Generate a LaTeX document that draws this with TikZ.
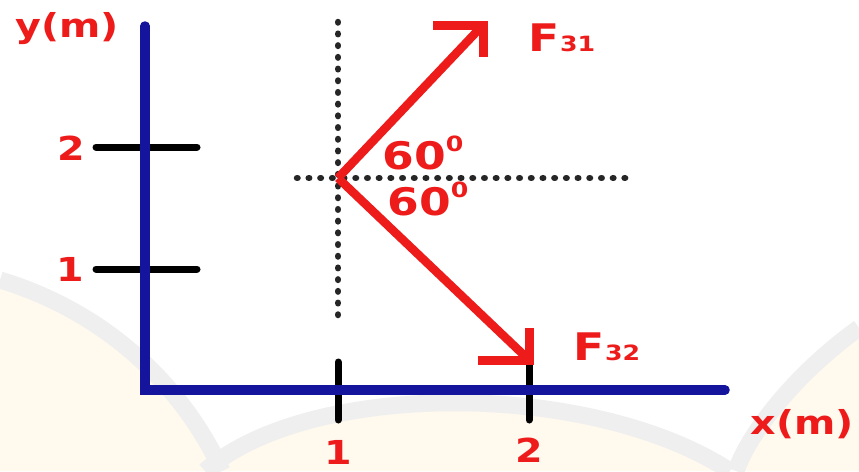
\documentclass[tikz,border=0pt]{standalone}
\usepackage{fontspec}
\setmainfont{DejaVu Sans}
\definecolor{axisblue}{HTML}{14149C}
\definecolor{fred}{HTML}{EE1B1B}
\definecolor{wmbeige}{HTML}{FFF9EE}
\definecolor{wmgrey}{HTML}{EFEFEF}
\begin{document}
\begin{tikzpicture}[x=1pt,y=-1pt,
  axis/.style={line width=9.5pt, draw=axisblue, line cap=round, line join=miter},
  tickline/.style={line width=7pt, draw=black, line cap=round},
  dotline/.style={line width=6.5pt, draw=black!85, dash pattern=on 0.5pt off 11.2pt, line cap=round},
  force/.style={line width=8.5pt, draw=fred},
  headline/.style={line width=9pt, draw=fred, line cap=butt, line join=miter},
  lab/.style={text=fred, inner sep=0pt, xscale=1.2, font=\bfseries\fontsize{33}{33}\selectfont},
  biglab/.style={text=fred, inner sep=0pt, xscale=1.2, font=\bfseries\fontsize{38}{38}\selectfont},
  wmband/.style={line width=17pt, draw=wmgrey}]
\useasboundingbox (0,0) rectangle (859,471);
\fill[white] (0,0) rectangle (859,471);
% watermark
\fill[wmbeige] (0,280) .. controls (100,310) and (180,380) .. (222,471) -- (0,471) -- cycle;
\fill[wmbeige] (205,471) .. controls (310,380) and (590,380) .. (730,471) -- cycle;
\fill[wmbeige] (859,328) .. controls (800,370) and (750,430) .. (736,471) -- (859,471) -- cycle;
\draw[wmband] (0,280) .. controls (100,310) and (180,380) .. (222,471);
\draw[wmband] (205,471) .. controls (310,380) and (590,380) .. (730,471);
\draw[wmband] (859,328) .. controls (800,370) and (750,430) .. (736,471);
% coordinates
\coordinate (O) at (145,390);
\coordinate (Ytop) at (145,26);
\coordinate (Xend) at (725,390);
\coordinate (P) at (338,178);
\coordinate (T1) at (483,25);
\coordinate (T2) at (529,360);
% ticks
\draw[tickline] (96,147) -- (197,147);
\draw[tickline] (96,269) -- (197,269);
\draw[tickline] (338,362) -- (338,420);
\draw[tickline] (529,362) -- (529,420);
% axes
\draw[axis] (Ytop) -- (O) -- (Xend);
% dotted guides
\draw[dotline] (338,22) -- (338,322);
\draw[dotline] (297,178) -- (630,178);
% forces
\draw[force] (P) -- (T1);
\draw[force] (P) -- (T2);
\draw[headline] (433,25) -- (T1) -- (483,57);
\draw[headline] (478,360) -- (T2) -- (529,328);
% labels
\node[lab] (ylab) at (67,29) {y(m)};
\node[lab] (xlab) at (802,424) {x(m)};
\node[lab] (y2) at (71,148) {2};
\node[lab] (y1) at (70,269) {1};
\node[lab] (x1) at (338,452) {1};
\node[lab] (x2) at (529,450) {2};
\node[biglab] (a1) at (423,153) {60\raisebox{0.45em}{\fontsize{21}{21}\selectfont 0}};
\node[biglab] (a2) at (428,199) {60\raisebox{0.45em}{\fontsize{21}{21}\selectfont 0}};
\node[biglab] (f31) at (562,38) {F{\fontsize{21}{21}\selectfont 31}};
\node[biglab] (f32) at (607,347) {F{\fontsize{21}{21}\selectfont 32}};
\end{tikzpicture}
\end{document}
